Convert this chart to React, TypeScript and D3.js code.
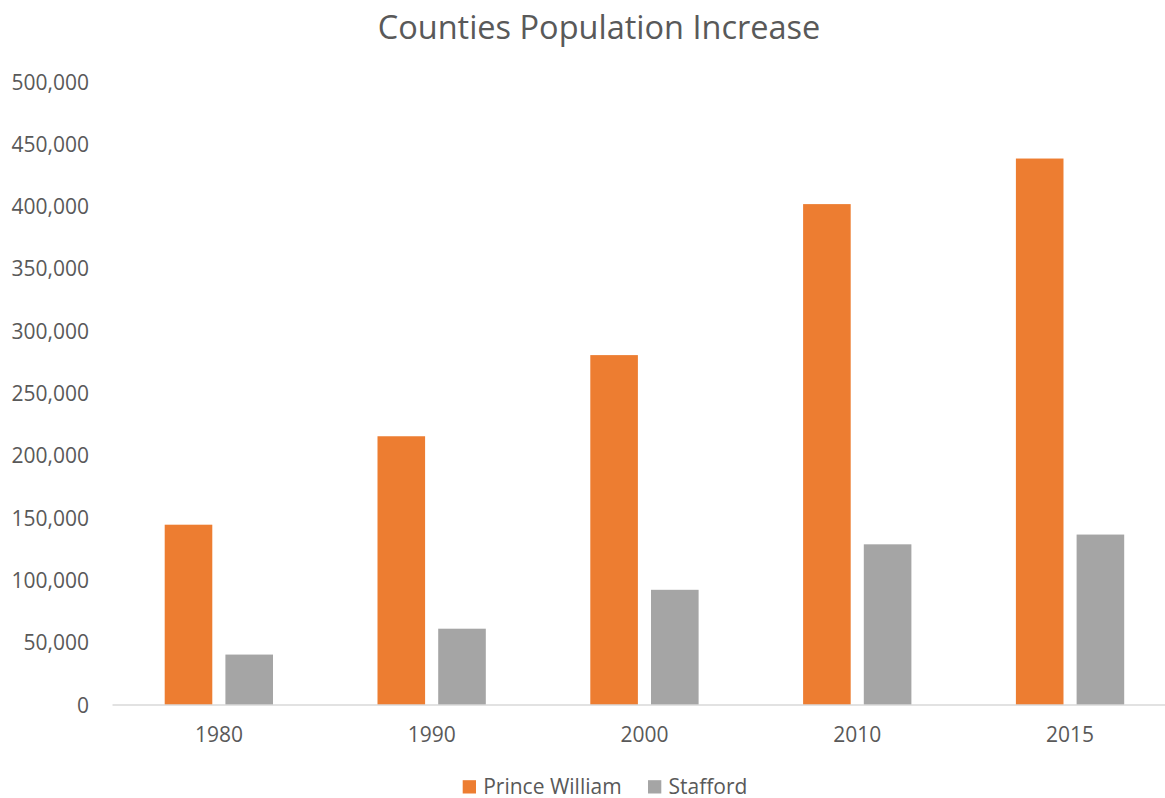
import React from "react";
import * as d3 from "d3";

const categories = ["1980", "1990", "2000", "2010", "2015"];
const seriesNames = ["Prince William", "Stafford"];
const princeWilliam = [144703, 215686, 280813, 402002, 438580];
const stafford = [40470, 61236, 92446, 128961, 136788];
const yTicks = [0, 50000, 100000, 150000, 200000, 250000, 300000, 350000, 400000, 450000, 500000];
const colors = ["#ED7D31", "#A5A5A5"];

const W = 1165;
const H = 798;
const FONT = "'Open Sans', sans-serif";
const TEXT = "#595959";

export default function App() {
  const x = d3.scaleBand<string>().domain(categories).range([112.5, 1176.5]).paddingInner(0).paddingOuter(0);
  const inner = d3.scaleBand<string>().domain(seriesNames).range([52.2, 160.5]).paddingInner(0.216).paddingOuter(0);
  const y = d3.scaleLinear().domain([0, 500000]).range([705, 82]);
  const fmt = d3.format(",");
  const series = [princeWilliam, stafford];

  return (
    <svg width={W} height={H} style={{ position: "absolute", left: 0, top: 0, background: "#fff" }}>
      <rect x={0} y={0} width={W} height={H} fill="#fff" />
      <text x={599} y={39} textAnchor="middle" fontFamily={FONT} fontSize={32.5} fill={TEXT}>
        Counties Population Increase
      </text>
      {yTicks.map((t) => (
        <text key={t} x={89} y={y(t) + 7.5} textAnchor="end" fontFamily={FONT} fontSize={21} fill={TEXT}>
          {fmt(t)}
        </text>
      ))}
      {categories.map((c, i) =>
        series.map((s, j) => (
          <rect
            key={c + j}
            x={(x(c) as number) + (inner(seriesNames[j]) as number)}
            y={y(s[i])}
            width={inner.bandwidth()}
            height={y(0) - y(s[i])}
            fill={colors[j]}
          />
        ))
      )}
      <line x1={112.5} x2={W} y1={705} y2={705} stroke="#D9D9D9" strokeWidth={1.5} />
      {categories.map((c) => (
        <text key={c} x={(x(c) as number) + x.bandwidth() / 2} y={742} textAnchor="middle" fontFamily={FONT} fontSize={21} fill={TEXT}>
          {c}
        </text>
      ))}
      {seriesNames.map((n, j) => {
        const lx = j === 0 ? 462.7 : 648;
        return (
          <g key={n}>
            <rect x={lx} y={780.2} width={13.3} height={13.3} fill={colors[j]} />
            <text x={lx + 20.5} y={793.5} fontFamily={FONT} fontSize={21} fill={TEXT}>
              {n}
            </text>
          </g>
        );
      })}
    </svg>
  );
}
